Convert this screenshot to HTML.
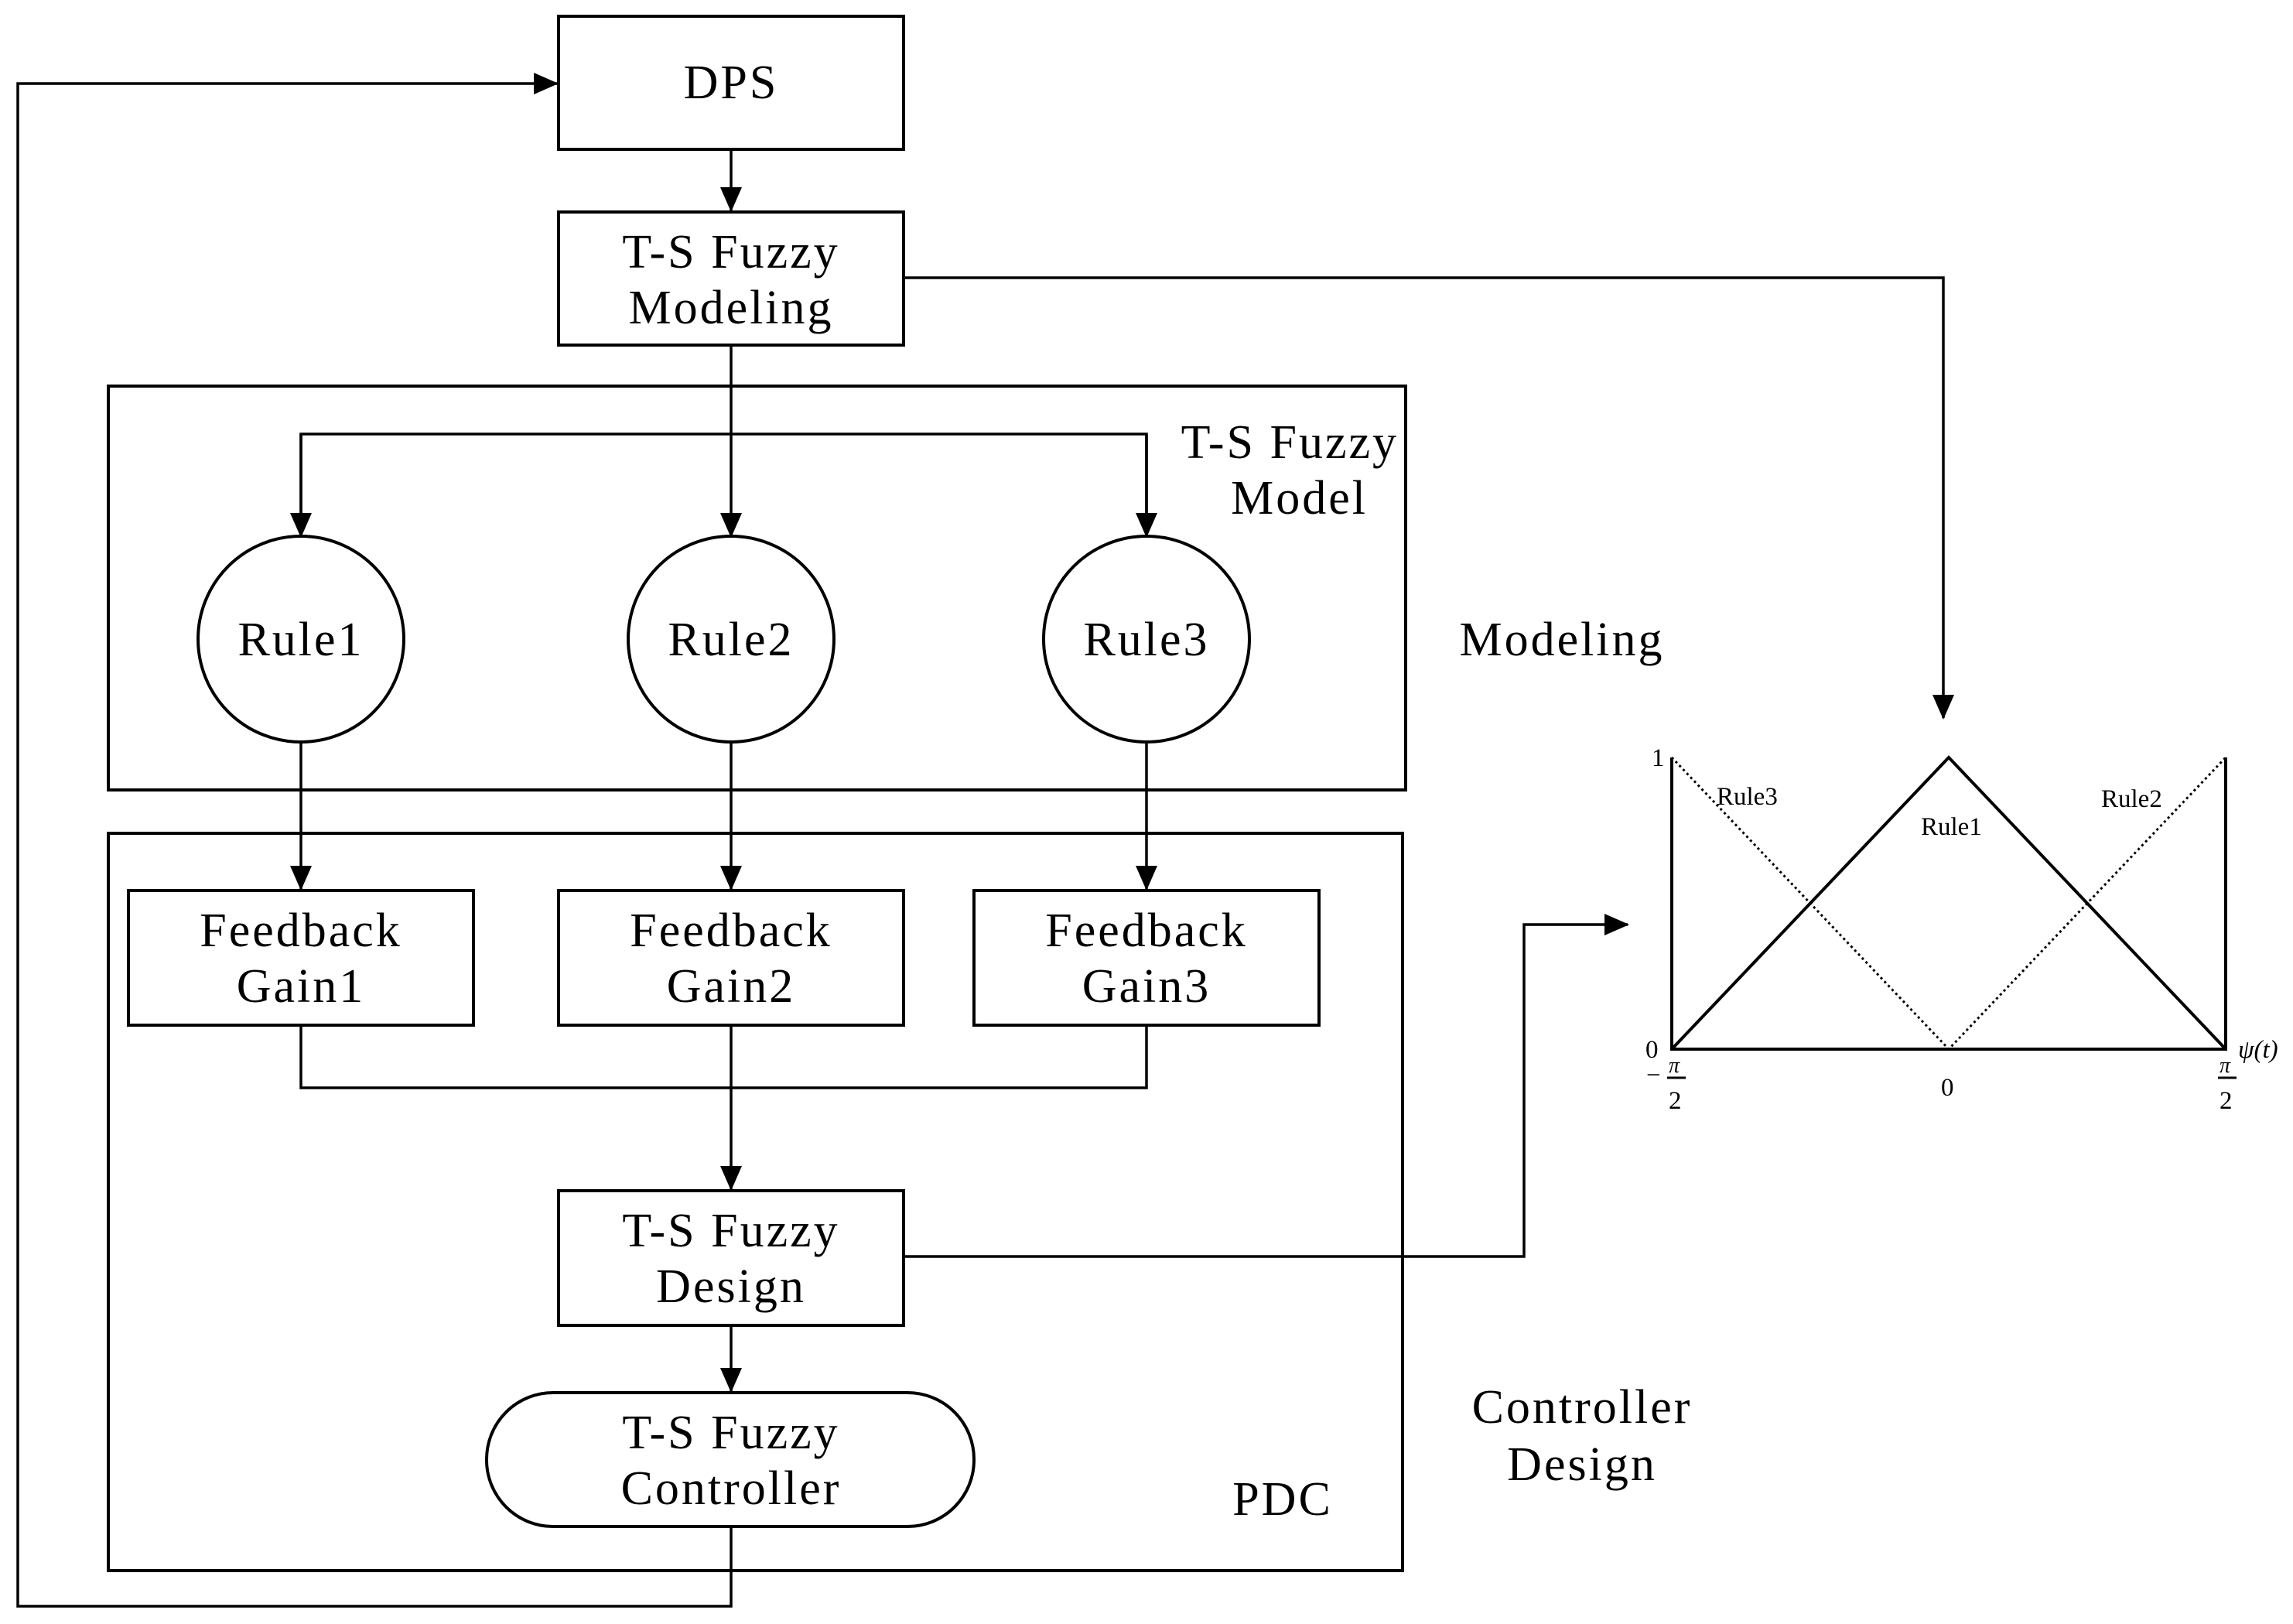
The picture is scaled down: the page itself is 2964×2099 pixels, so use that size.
<!DOCTYPE html>
<html><head><meta charset="utf-8"><style>
html,body{margin:0;padding:0;background:#fff;}
svg{display:block;}
text{font-family:"Liberation Serif",serif;fill:#000;}
</style></head><body>
<svg width="2964" height="2099" viewBox="0 0 2964 2099" xmlns="http://www.w3.org/2000/svg">
<defs>
<marker id="a" markerWidth="32" markerHeight="28" refX="30" refY="14" orient="auto" markerUnits="userSpaceOnUse">
<path d="M0,0 L32,14 L0,28 Z" fill="#000"/></marker>
</defs>
<g fill="none" stroke="#000" stroke-width="4">
<rect x="722" y="21" width="446" height="172"/>
<rect x="722" y="274" width="446" height="172"/>
<rect x="140" y="499" width="1677" height="522"/>
<rect x="140" y="1077" width="1673" height="953"/>
<circle cx="389" cy="826" r="133"/>
<circle cx="945" cy="826" r="133"/>
<circle cx="1482" cy="826" r="133"/>
<rect x="166" y="1151" width="446" height="174"/>
<rect x="722" y="1151" width="446" height="174"/>
<rect x="1259" y="1151" width="446" height="174"/>
<rect x="722" y="1539" width="446" height="174"/>
<rect x="629" y="1800" width="630" height="173" rx="86" ry="86"/>
</g>
<g fill="none" stroke="#000" stroke-width="3.5">
<line x1="945" y1="193" x2="945" y2="272" marker-end="url(#a)"/>
<polyline points="1168,359 2512,359 2512,928" marker-end="url(#a)"/>
<line x1="945" y1="446" x2="945" y2="693" marker-end="url(#a)"/>
<polyline points="389,693 389,561 1482,561 1482,693" />
<line x1="389" y1="561" x2="389" y2="693" marker-end="url(#a)"/>
<line x1="1482" y1="561" x2="1482" y2="693" marker-end="url(#a)"/>
<line x1="389" y1="959" x2="389" y2="1149" marker-end="url(#a)"/>
<line x1="945" y1="959" x2="945" y2="1149" marker-end="url(#a)"/>
<line x1="1482" y1="959" x2="1482" y2="1149" marker-end="url(#a)"/>
<polyline points="389,1325 389,1406 1482,1406 1482,1325"/>
<line x1="945" y1="1325" x2="945" y2="1537" marker-end="url(#a)"/>
<polyline points="1168,1624 1970,1624 1970,1195 2104,1195" marker-end="url(#a)"/>
<line x1="945" y1="1713" x2="945" y2="1798" marker-end="url(#a)"/>
<polyline points="945,1973 945,2076 23,2076 23,108 720,108" marker-end="url(#a)"/>
</g>
<g font-size="62" text-anchor="middle" letter-spacing="3">
<text x="945" y="127">DPS</text>
<text x="945" y="346">T-S Fuzzy</text>
<text x="945" y="418">Modeling</text>
<text x="389" y="847">Rule1</text>
<text x="945" y="847">Rule2</text>
<text x="1482" y="847">Rule3</text>
<text x="389" y="1223">Feedback</text>
<text x="389" y="1295">Gain1</text>
<text x="945" y="1223">Feedback</text>
<text x="945" y="1295">Gain2</text>
<text x="1482" y="1223">Feedback</text>
<text x="1482" y="1295">Gain3</text>
<text x="945" y="1611">T-S Fuzzy</text>
<text x="945" y="1683">Design</text>
<text x="945" y="1872">T-S Fuzzy</text>
<text x="945" y="1944">Controller</text>
<text x="2045" y="1839">Controller</text>
<text x="2045" y="1913">Design</text>
<text x="2019" y="847">Modeling</text>
<text x="1658" y="1958">PDC</text>
</g>
<g font-size="62" text-anchor="end" letter-spacing="3">
<text x="1808" y="592">T-S Fuzzy</text>
<text x="1768" y="664">Model</text>
</g>
<!-- plot -->
<g fill="none" stroke="#000">
<polyline stroke-width="4" points="2161,979 2161,1356 2877,1356 2877,979"/>
<polyline stroke-width="4" points="2161,1356 2519,979 2877,1356"/>
<polyline stroke-width="3" stroke-dasharray="3,4" points="2161,979 2519,1356 2877,979"/>
</g>
<g font-size="33">
<text x="2135" y="990">1</text>
<text x="2127" y="1367">0</text>
<text x="2219" y="1040">Rule3</text>
<text x="2483" y="1079">Rule1</text>
<text x="2716" y="1043">Rule2</text>
<text x="2893" y="1367" font-style="italic">ψ(t)</text>
<text x="2509" y="1416">0</text>
<text x="2128" y="1400">−</text>
<text x="2157" y="1386" font-style="italic" font-size="28">π</text>
<text x="2157" y="1433">2</text>
<text x="2869" y="1386" font-style="italic" font-size="28">π</text>
<text x="2869" y="1433">2</text>
</g>
<line x1="2155" y1="1393" x2="2179" y2="1393" stroke="#000" stroke-width="3"/>
<line x1="2867" y1="1393" x2="2891" y2="1393" stroke="#000" stroke-width="3"/>
</svg>
</body></html>
